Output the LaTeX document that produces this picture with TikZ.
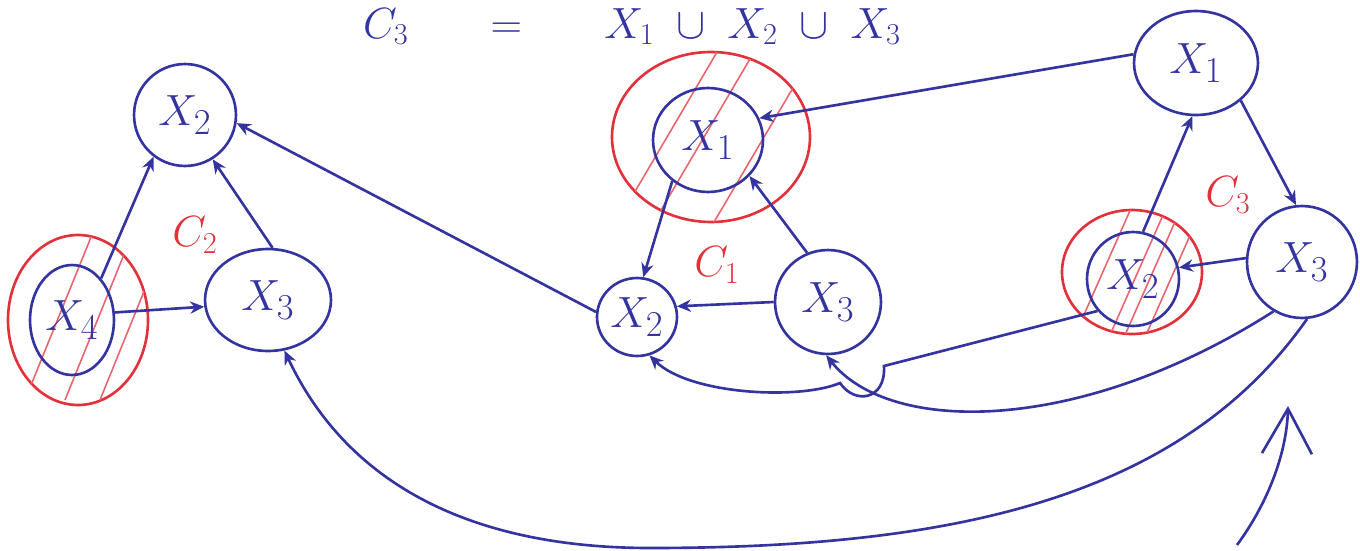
\documentclass[tikz,border=0pt]{standalone}
\usepackage{amsmath,amssymb}
\usepackage{xcolor}
\usepackage{tikz}
\usetikzlibrary{arrows.meta,shapes.geometric}
\definecolor{ink}{RGB}{52,52,160}
\definecolor{redink}{RGB}{225,50,60}

\begin{document}
\begin{tikzpicture}[x=0.02cm,y=-0.02cm,>=Stealth,
    var/.style 2 args={ellipse,draw=ink,line width=1.5pt,inner sep=0pt,text=ink,
      minimum width=#1*0.04cm,minimum height=#2*0.04cm,font=\fontsize{30}{34}\selectfont},
    msg/.style={draw=ink,line width=1.5pt,-{Stealth[length=8pt,width=7pt]}},
    back/.style={draw=ink,line width=1.5pt,{Stealth[length=8pt,width=7pt]}-},
    clab/.style={text=redink,font=\fontsize{24}{28}\selectfont},
    ring/.style={draw=redink,line width=1.5pt},
    hatch/.style={draw=redink!75,line width=0.9pt}]
  \useasboundingbox (0,0) rectangle (1360,551);

  \node[text=ink,anchor=base west,font=\fontsize{26}{30}\selectfont] (title) at (357,38)
    {$C_3 \quad\;\; = \quad\;\; X_1 \;\cup\; X_2 \;\cup\; X_3$};

  % red rings with hatching
  \draw[ring] (78,320) ellipse [x radius=70,y radius=85];
  \begin{scope}
    \clip (78,320) ellipse [x radius=70,y radius=85];
    \foreach \s in {25,65,100} \draw[hatch] (\s,400) -- ++(75,-185);
  \end{scope}
  \draw[ring] (711,137) ellipse [x radius=99,y radius=85];
  \begin{scope}
    \clip (711,137) ellipse [x radius=99,y radius=85];
    \foreach \s in {630,667,727} \draw[hatch] (\s-60,302) -- ++(150,-255);
  \end{scope}
  \draw[ring] (1132,272) ellipse [x radius=70,y radius=62];
  \begin{scope}
    \clip (1132,272) ellipse [x radius=70,y radius=62];
    \foreach \s in {1082,1117,1132,1153} \draw[hatch] (\s-7,335) -- ++(80,-181);
  \end{scope}

  % left clique
  \node[var={51}{51}] (lx2) at (185,115) {$X_2$};
  \node[var={42}{55}] (lx4) at (72,320) {$X_4$};
  \node[var={63}{51}] (lx3) at (268,300) {$X_3$};
  \node[clab] (c2) at (195,235) {$C_2$};

  % middle clique
  \node[var={55}{52}] (mx1) at (708,140) {$X_1$};
  \node[var={40}{39}] (mx2) at (637,317) {$X_2$};
  \node[var={53}{52}] (mx3) at (828,302) {$X_3$};
  \node[clab] (c1) at (717,265) {$C_1$};

  % right clique
  \node[var={62}{52}] (rx1) at (1196,63) {$X_1$};
  \node[var={46}{47}] (rx2) at (1133,279) {$X_2$};
  \node[var={55}{56}] (rx3) at (1302,262) {$X_3$};
  \node[clab] (c3) at (1228,195) {$C_3$};

  \draw[msg] (lx4.55) -- (lx2.-127);
  \draw[msg] (lx3.85) -- (lx2.-58);
  \draw[msg] (lx4.10) -- (lx3.186);
  \draw[msg] (mx2.173) -- (lx2.-9);
  \draw[msg] (rx1.172) -- (mx1.23);
  \draw[msg] (mx1.-131) -- (mx2.81);
  \draw[msg] (mx3.113) -- (mx1.-41);
  \draw[msg] (mx3.180) -- (mx2.15);
  \draw[msg] (rx2.78) -- (rx1.-94);
  \draw[msg] (rx1.-40) -- (rx3.96);
  \draw[msg] (rx3.176) -- (rx2.14);

  \coordinate (kink) at (884,366);
  \coordinate (cusp) at (840,383);
  \draw[msg] (rx2.222) -- (kink) .. controls (886,400) and (855,405) .. (cusp)
    .. controls (800,400) and (690,395) .. (mx2.-72);

  \draw[back] (lx3.-72) .. controls (352,494) and (486,548) .. (650,548)
    .. controls (950,548) and (1180,500) .. (rx3.-85);
  \draw[back] (mx3.-92) .. controls (890,435) and (1080,435) .. (rx3.-120);

  \coordinate (tail) at (1237,545);
  \coordinate (head) at (1288,406);
  \draw[draw=ink,line width=1.5pt,-{Straight Barb[length=0.9cm,width=1.0cm]}]
    (tail) .. controls (1270,500) and (1287,450) .. (head);
\end{tikzpicture}
\end{document}
